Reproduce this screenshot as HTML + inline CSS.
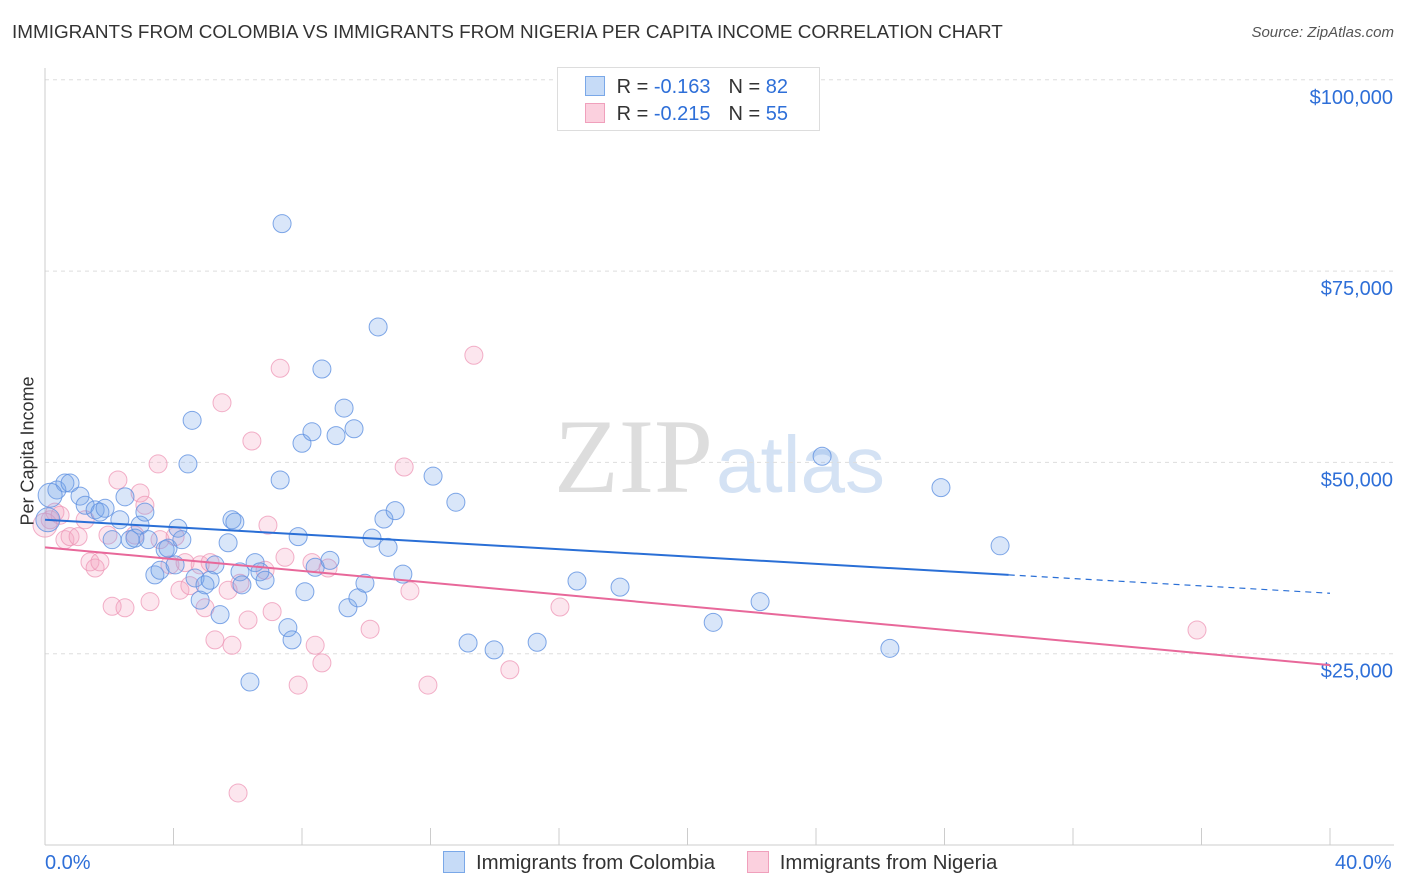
<!DOCTYPE html>
<html><head><meta charset="utf-8">
<style>
body{margin:0;background:#fff;font-family:"Liberation Sans",sans-serif;}
#wrap{position:relative;width:1406px;height:892px;overflow:hidden;}
.t{position:absolute;white-space:nowrap;}
</style></head><body>
<div id="wrap">
<div class="t" style="left:12px;top:22px;font-size:18.9px;color:#333;">IMMIGRANTS FROM COLOMBIA VS IMMIGRANTS FROM NIGERIA PER CAPITA INCOME CORRELATION CHART</div>
<div class="t" style="right:12px;top:24px;font-size:15px;color:#555;font-style:italic;">Source: ZipAtlas.com</div>
<svg id="plot" width="1406" height="892" style="position:absolute;left:0;top:0">
<text x="713" y="492" text-anchor="end" font-family="Liberation Serif" font-size="106" fill="#ddd">ZIP</text>
<text x="716" y="492" font-family="Liberation Sans" font-size="80" fill="#d4e2f4">atlas</text>
</svg>
<div style="position:absolute;left:557px;top:67px;width:261px;height:62px;border:1px solid #ddd;background:#fff;font-size:20px;color:#333;">
 <div style="position:absolute;left:27px;top:8px;"><span style="display:inline-block;width:18px;height:18px;background:#c6dbf7;border:1px solid #7aa8e8;vertical-align:-3px;"></span> <span style="margin-left:6px">R = </span><span style="color:#2e6fd8">-0.163</span><span style="margin-left:18px">N = </span><span style="color:#2e6fd8">82</span></div>
 <div style="position:absolute;left:27px;top:35px;"><span style="display:inline-block;width:18px;height:18px;background:#fbd0de;border:1px solid #f0a0bc;vertical-align:-3px;"></span> <span style="margin-left:6px">R = </span><span style="color:#2e6fd8">-0.215</span><span style="margin-left:18px">N = </span><span style="color:#2e6fd8">55</span></div>
</div>
<div class="t" style="left:-42px;top:445px;font-size:18px;color:#333;transform:rotate(-90deg);transform-origin:center;width:140px;text-align:center;">Per Capita Income</div>
<div class="t" style="left:45px;top:852px;font-size:20px;color:#2e6fd8;">0.0%</div>
<div class="t" style="left:1335px;top:852px;font-size:20px;color:#2e6fd8;">40.0%</div>
<div style="position:absolute;left:443px;top:851px;font-size:20.4px;color:#333;">
 <span><span style="display:inline-block;width:20px;height:20px;background:#c6dbf7;border:1px solid #7aa8e8;vertical-align:-4px;"></span><span style="margin-left:11px">Immigrants from Colombia</span></span>
 <span style="margin-left:26px"><span style="display:inline-block;width:20px;height:20px;background:#fbd0de;border:1px solid #f0a0bc;vertical-align:-4px;"></span><span style="margin-left:11px">Immigrants from Nigeria</span></span>
</div>
</div>
<script>
const yTicks=[25000,50000,75000,100000];
const yTickLabels=["$25,000","$50,000","$75,000","$100,000"];
const xTicks=[0,4,8,12,16,20,24,28,32,36,40];
const colX=[0.37,0.62,0.78,1.09,1.25,1.56,1.71,1.87,2.49,2.33,2.09,2.65,2.96,2.80,3.21,3.11,3.42,3.58,3.74,3.83,4.14,4.26,4.05,4.45,4.58,4.67,4.83,4.98,5.14,5.29,5.45,5.70,5.82,5.91,6.07,6.13,6.38,6.54,6.69,6.85,7.38,7.32,7.56,7.69,7.88,8.00,8.09,8.31,8.41,8.62,8.87,9.06,9.31,9.43,9.62,9.74,9.96,10.18,10.37,10.55,10.68,10.90,11.14,12.08,12.79,13.17,13.98,15.32,16.56,17.90,20.80,22.26,24.19,26.30,27.89,29.73,0.09,0.16];
const colY=[46400,47300,47300,45600,44400,43800,43500,44000,45500,42500,39900,39900,41800,40100,39900,43500,35300,35900,38600,38800,41400,39900,36600,49800,55500,34900,32000,34000,34600,36600,30100,39500,42500,42200,35700,34000,21300,36900,35700,34600,81200,47700,28400,26800,40300,52500,33100,54000,36300,62200,37200,53500,57100,31000,54400,32300,34200,40100,67700,42600,38900,43700,35400,48200,44800,26400,25500,26500,34500,33700,29100,31800,50800,25700,46700,39100,42500,45700];
const colR=[9,9,9,9,9,9,9,9,9,9,9,9,9,9,9,9,9,9,9,9,9,9,9,9,9,9,9,9,9,9,9,9,9,9,9,9,9,9,9,9,9,9,9,9,9,9,9,9,9,9,9,9,9,9,9,9,9,9,9,9,9,9,9,9,9,9,9,9,9,9,9,9,9,9,9,9,12,12];
const nigX=[0.16,0.31,0.47,0.62,0.78,1.03,1.25,1.40,1.56,1.71,2.09,2.27,2.49,2.80,2.96,3.11,3.27,3.52,3.58,3.89,4.05,4.20,4.36,4.51,4.83,4.98,5.14,5.29,5.51,5.70,5.82,6.07,6.32,6.44,6.85,6.94,7.07,7.32,7.47,7.88,8.31,8.41,8.62,8.81,10.12,11.18,11.36,11.92,13.35,14.47,16.03,6.01,35.86,0.0,1.96];
const nigY=[42500,43500,43100,39900,40300,40300,42500,37000,36200,37000,31200,47700,31000,40500,46000,44400,31800,49800,39900,36600,40300,33300,36900,33900,36600,31000,36900,26800,57800,33300,26100,34200,29400,52800,35900,41800,30500,62300,37600,20900,36900,26100,23800,36200,28200,49400,33200,20900,64000,22900,31100,6800,28100,41800,40500];
const colTrend=[42500,35300,32900]; // values at 0%, 30%, 40%
const nigTrend=[38900,23500]; // values at 0%, 40%
const X=p=>45+p/40*1285;
const Y=v=>845-v/25000*191.3;
const svg=document.getElementById('plot');
const NS='http://www.w3.org/2000/svg';
function mk(tag,attrs){const e=document.createElementNS(NS,tag);for(const k in attrs)e.setAttribute(k,attrs[k]);svg.appendChild(e);return e;}
yTicks.forEach((v,i)=>{
 const g=mk('line',{x1:45,x2:1394,y1:Y(v),y2:Y(v),stroke:'#ddd','stroke-dasharray':'4,4'});
 
 
 const t=mk('text',{x:1393,y:Y(v)+24,'text-anchor':'end','font-size':20,fill:'#2e6fd8','font-family':'Liberation Sans'});
 t.textContent=yTickLabels[i];
 
 
});
const ax=mk('line',{x1:45,x2:45,y1:68,y2:845,stroke:'#ccc'});


const bx=mk('line',{x1:45,x2:1394,y1:845,y2:845,stroke:'#ccc'});


xTicks.forEach(p=>{
 const l=mk('line',{x1:X(p),x2:X(p),y1:828,y2:845,stroke:'#ccc'});
 
 
});
nigX.forEach((p,i)=>{
 const c=mk('circle',{cx:X(p),cy:Y(nigY[i]),r:(i==53?12:9),fill:'rgba(245,165,195,0.28)',stroke:'rgba(238,150,182,0.75)','stroke-width':1});
 
 
});
colX.forEach((p,i)=>{
 const c=mk('circle',{cx:X(p),cy:Y(colY[i]),r:colR[i],fill:'rgba(120,165,235,0.28)',stroke:'rgba(95,145,225,0.8)','stroke-width':1});
 
 
});
const l1=mk('line',{x1:X(0),y1:Y(colTrend[0]),x2:X(30),y2:Y(colTrend[1]),stroke:'#2a6fd6','stroke-width':2});


const l2=mk('line',{x1:X(30),y1:Y(colTrend[1]),x2:X(40),y2:Y(colTrend[2]),stroke:'#2a6fd6','stroke-width':1.2,'stroke-dasharray':'6,5'});


const l3=mk('line',{x1:X(0),y1:Y(nigTrend[0]),x2:X(40),y2:Y(nigTrend[1]),stroke:'#e8689a','stroke-width':2});


</script>
</body></html>
